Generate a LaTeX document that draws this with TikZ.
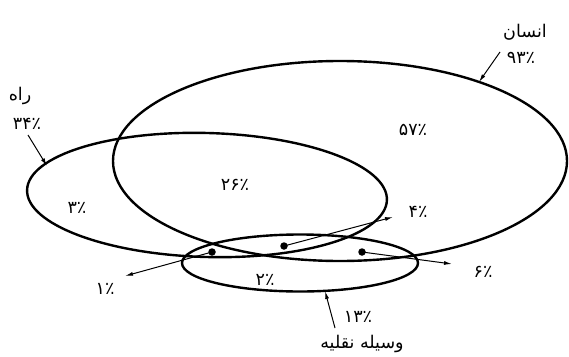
\documentclass[tikz,border=0pt]{standalone}
\usepackage{fontspec}
\newfontfamily\fa[Script=Arabic]{DejaVu Sans}
\TeXXeTstate=1
\usetikzlibrary{shapes.geometric,arrows.meta}
\begin{document}
\begin{tikzpicture}[x=1pt,y=-1pt,
  setshape/.style={draw,ellipse,line width=2.4pt,inner sep=0pt},
  lbl/.style={font=\fa\fontsize{17.5}{20}\selectfont,inner sep=0pt},
  ptr/.style={line width=1pt,-{Latex[length=8pt,width=4pt]}},
  dotmark/.style={circle,fill,inner sep=0pt,minimum size=7.5pt}]
\useasboundingbox (0,0) rectangle (569,356);
% sets
\node[setshape,minimum width=454pt,minimum height=200pt] (human) at (340,161) {};
\node[setshape,minimum width=360pt,minimum height=124pt,rotate=-1.6] (road) at (207,195) {};
\node[setshape,minimum width=236pt,minimum height=57pt] (vehicle) at (300,263) {};
% region labels
\node[lbl] (t57) at (413,130) {۵۷٪};
\node[lbl] (t26) at (235,185) {۲۶٪};
\node[lbl] (t3) at (77,208) {۳٪};
\node[lbl] (t2) at (265,280) {۲٪};
\node[lbl] (t4) at (418,212) {۴٪};
\node[lbl] (t6) at (483,272) {۶٪};
\node[lbl] (t1) at (105,289) {۱٪};
% set labels
\node[lbl] (troad) at (20,96) {راه};
\node[lbl] (t34) at (27,124) {۳۴٪};
\node[lbl] (thum) at (525,32) {انسان};
\node[lbl] (t93) at (521,58) {۹۳٪};
\node[lbl] (t13) at (358,317) {۱۳٪};
\node[lbl] (tveh) at (362,344) {\beginR وسیله نقلیه\endR};
% dots
\node[dotmark] (d1) at (212,252) {};
\node[dotmark] (d2) at (284,246) {};
\node[dotmark] (d3) at (362,252) {};
% arrow ends
\coordinate (e1) at (125,276);
\coordinate (e4) at (393,217);
\coordinate (e6) at (452,264);
\coordinate (sroad) at (28,135);
\coordinate (shum) at (500,52);
\coordinate (sveh) at (335,328);
\coordinate (hroad) at (47,166);
\coordinate (hhum) at (479,82);
\coordinate (hveh) at (325,291);
% connectors
\draw[ptr] (d1.center) -- (e1);
\draw[ptr] (d2.center) -- (e4);
\draw[ptr] (d3.center) -- (e6);
\draw[ptr] (sroad) -- (hroad);
\draw[ptr] (shum) -- (hhum);
\draw[ptr] (sveh) -- (hveh);
\end{tikzpicture}
\end{document}
